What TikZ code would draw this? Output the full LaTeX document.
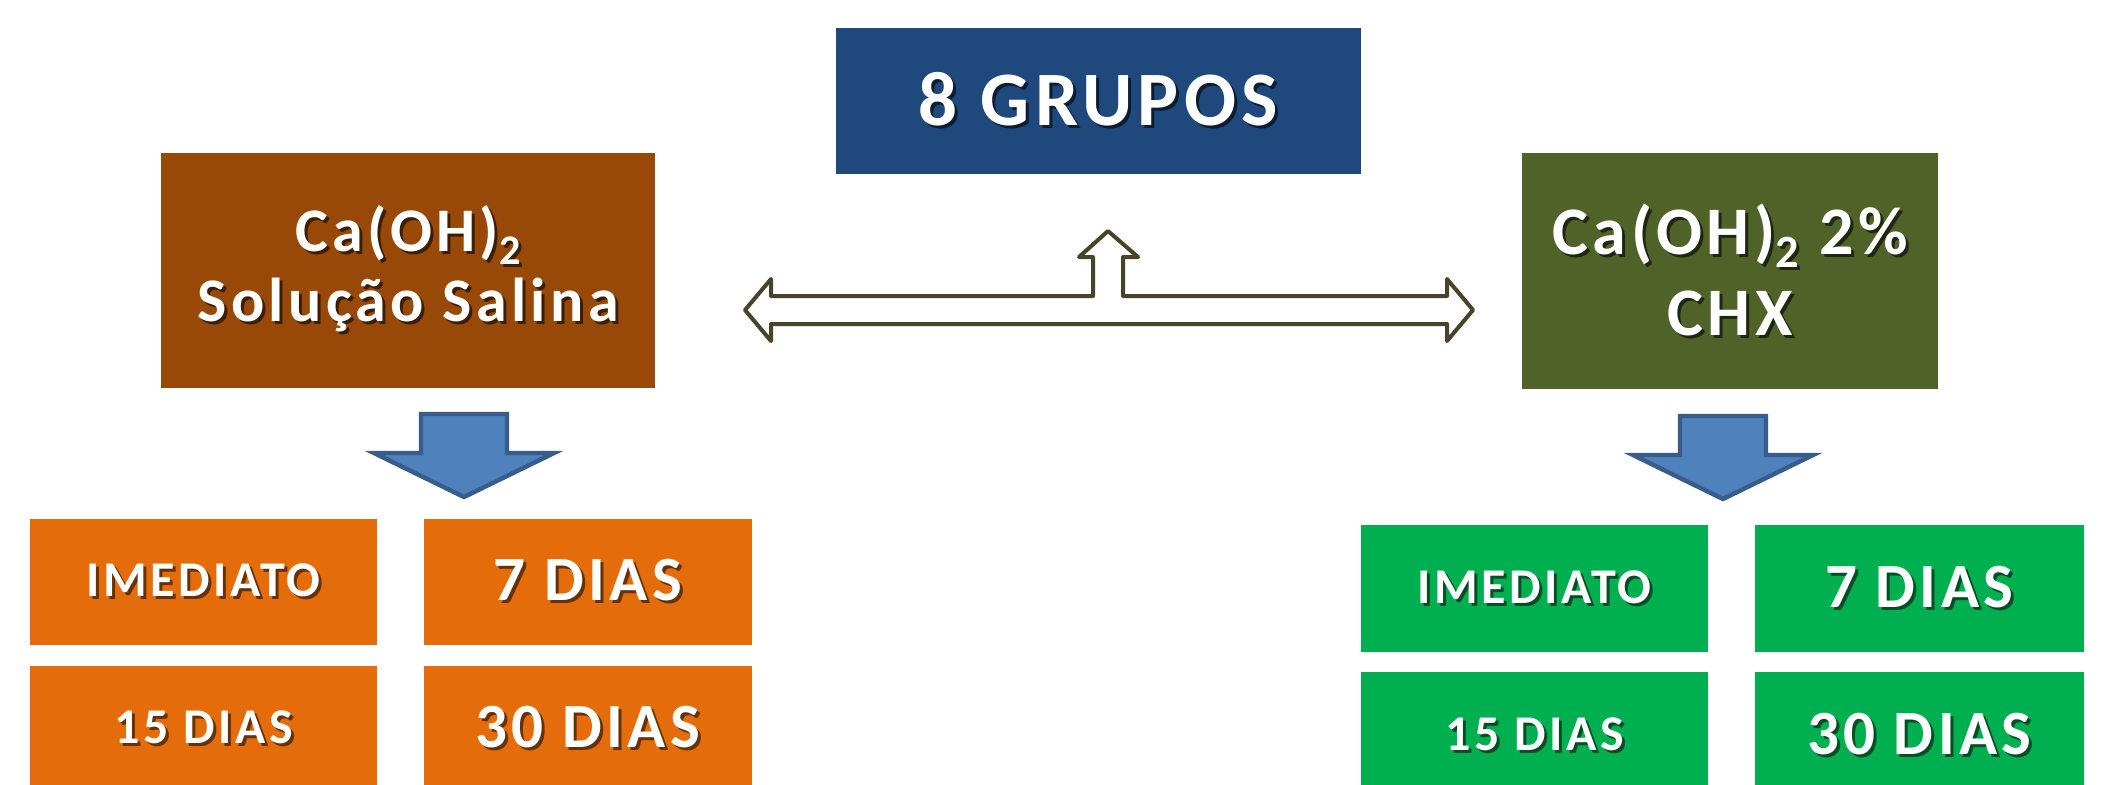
\documentclass[tikz,border=0pt]{standalone}
\usepackage{fontspec}
\setmainfont{Carlito}[LetterSpace=7]
\usetikzlibrary{positioning}

\definecolor{grupoblue}{HTML}{1F497D}
\definecolor{salbrown}{HTML}{984807}
\definecolor{chxolive}{HTML}{4F6228}
\definecolor{salorange}{HTML}{E46C0A}
\definecolor{chxgreen}{HTML}{00B050}
\definecolor{arrblue}{HTML}{4F81BD}
\definecolor{arredge}{HTML}{385D8A}
\definecolor{tline}{HTML}{494429}
\colorlet{shcol}{black}

% white text with a small drop shadow
\newcommand\shd[1]{\leavevmode\rlap{\kern1.5pt\raisebox{-1.5pt}{\textcolor{shcol}{#1}}}#1}
\newcommand\sub[1]{\raisebox{-0.2em}{\fontsize{0.68em}{1em}\selectfont #1}}

\begin{document}
\begin{tikzpicture}[x=0.5pt,y=-0.5pt]
\tikzstyle{box}=[rectangle, inner sep=0pt, text=white, align=center]
\tikzstyle{grupobox}=[box, fill=grupoblue, minimum width=262.5pt, minimum height=73pt,
	font=\bfseries\fontsize{38.5}{42}\selectfont, execute at begin node={\colorlet{shcol}{grupoblue!40!black}}]
\tikzstyle{salbox}=[box, fill=salbrown, minimum width=247pt, minimum height=117.5pt,
	font=\bfseries\fontsize{31}{35}\selectfont, execute at begin node={\colorlet{shcol}{salbrown!40!black}}]
\tikzstyle{chxbox}=[box, fill=chxolive, minimum width=208pt, minimum height=118pt,
	font=\bfseries\fontsize{34}{40.5}\selectfont, execute at begin node={\colorlet{shcol}{chxolive!40!black}}]
\tikzstyle{salday}=[box, fill=salorange, minimum height=63pt, execute at begin node={\colorlet{shcol}{salorange!45!black}}]
\tikzstyle{chxday}=[box, fill=chxgreen, minimum height=63.5pt, execute at begin node={\colorlet{shcol}{chxgreen!45!black}}]
\tikzstyle{small}=[font=\bfseries\fontsize{25}{27}\selectfont]
\tikzstyle{big}=[font=\bfseries\fontsize{31.5}{34}\selectfont]
\tikzstyle{darr}=[fill=arrblue, draw=arredge, line width=2.2pt, line join=miter]
\tikzstyle{tarr}=[fill=white, draw=tline, line width=2pt, line join=round]
\tikzset{downarr/.pic={
	\draw[darr] (-43,0) -- (43,0) -- (43,39) -- (90,39) -- (0,83) -- (-90,39) -- (-43,39) -- cycle;
}}

\fill[white] (0,0) rectangle (2104,784);
\useasboundingbox (0,0) rectangle (2104,784);

\node[grupobox] (grupos) at (1098.5,101) {\shd{8 GRUPOS}};
\node[salbox] (sal) at (408,270.5) {\shd{Ca(OH)\sub{2}}\\\shd{Solução Salina}};
\node[chxbox] (chx) at (1730,271) {\shd{Ca(OH)\sub{2} 2\%}\\\shd{CHX}};

% three-way arrow
\coordinate (tL) at (745,310);
\coordinate (tR) at (1473,310);
\coordinate (tU) at (1108,231);
\draw[tarr] (tL) -- ++(26,-31) -- ++(0,17) -- (1093,296) -- (1093,257) -- ++(-14,0) -- (tU)
	-- (1138,257) -- ++(-15,0) -- (1123,296) -- (1447,296) -- ++(0,-17) -- (tR)
	-- ++(-26,31) -- ++(0,-17) -- (771,324) -- ++(0,17) -- cycle;

\pic at (464,414) {downarr};
\pic at (1723,416) {downarr};

% left days
\node[salday, small, minimum width=173.5pt] (l1) at (203.5,582) {\shd{IMEDIATO}};
\node[salday, big, minimum width=164pt, right=23pt of l1] (l2) {\shd{7 DIAS}};
\node[salday, small, minimum width=173.5pt, below=10pt of l1] (l3) {\shd{15 DIAS}};
\node[salday, big, minimum width=164pt, below=10pt of l2] (l4) {\shd{30 DIAS}};

% right days
\node[chxday, small, minimum width=173.5pt] (r1) at (1534.5,588.5) {\shd{IMEDIATO}};
\node[chxday, big, minimum width=164.5pt, right=23pt of r1] (r2) {\shd{7 DIAS}};
\node[chxday, small, minimum width=173.5pt, below=9.5pt of r1] (r3) {\shd{15 DIAS}};
\node[chxday, big, minimum width=164.5pt, below=9.5pt of r2] (r4) {\shd{30 DIAS}};

\end{tikzpicture}
\end{document}
